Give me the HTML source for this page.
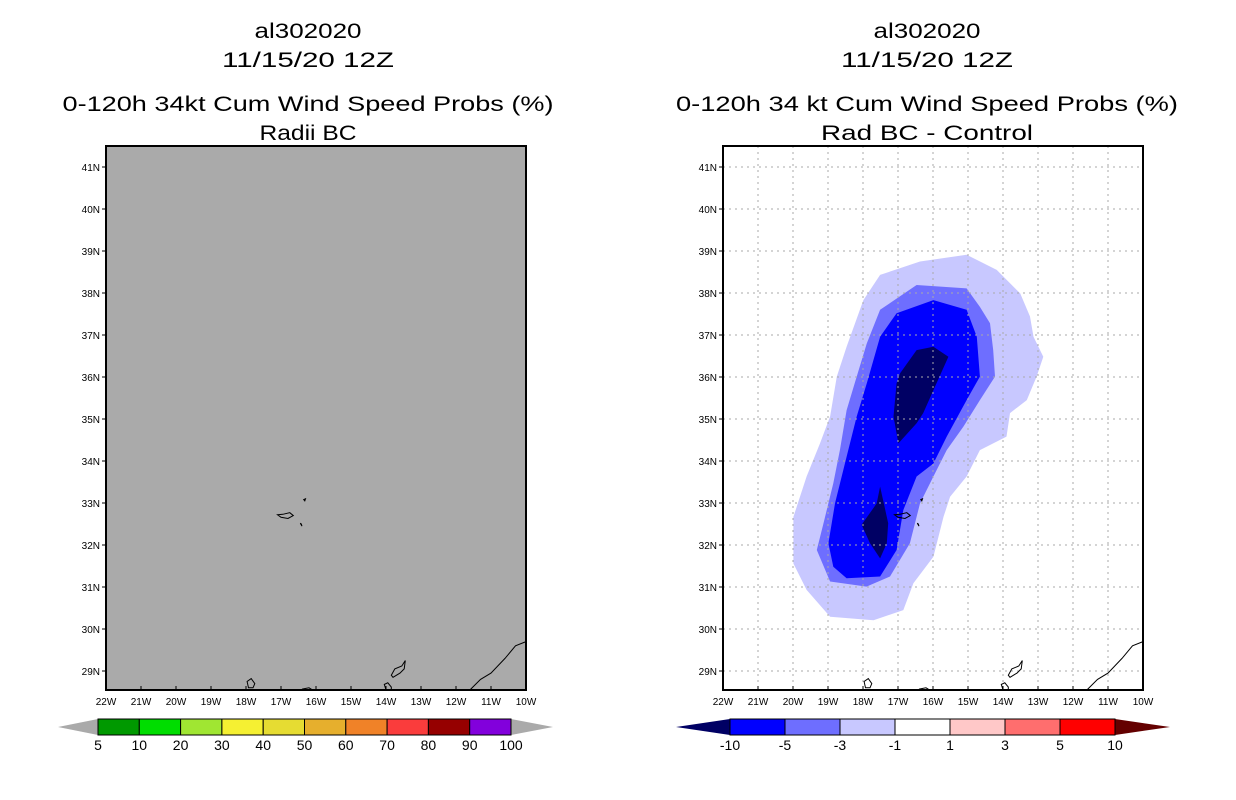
<!DOCTYPE html>
<html><head><meta charset="utf-8"><style>
html,body{margin:0;padding:0;background:#fff}
svg{display:block;font-family:"Liberation Sans",sans-serif}
</style></head><body>
<svg id="s" width="1236" height="800" xmlns="http://www.w3.org/2000/svg">
<g id="titles" font-size="21" text-anchor="middle" fill="#000">
<text x="308" y="38" textLength="107" lengthAdjust="spacingAndGlyphs">al302020</text>
<text x="308" y="67" textLength="172" lengthAdjust="spacingAndGlyphs">11/15/20 12Z</text>
<text x="308" y="111" textLength="491" lengthAdjust="spacingAndGlyphs">0-120h 34kt Cum Wind Speed Probs (%)</text>
<text x="308" y="140" textLength="97" lengthAdjust="spacingAndGlyphs">Radii BC</text>
<text x="927" y="38" textLength="107" lengthAdjust="spacingAndGlyphs">al302020</text>
<text x="927" y="67" textLength="172" lengthAdjust="spacingAndGlyphs">11/15/20 12Z</text>
<text x="927" y="111" textLength="502" lengthAdjust="spacingAndGlyphs">0-120h 34 kt Cum Wind Speed Probs (%)</text>
<text x="927" y="140" textLength="212" lengthAdjust="spacingAndGlyphs">Rad BC - Control</text>
</g>
</svg>
<script>
const lonTicks=[22,21,20,19,18,17,16,15,14,13,12,11,10];
const latTicks=[41,40,39,38,37,36,35,34,33,32,31,30,29];
const leftBins=["5","10","20","30","40","50","60","70","80","90","100"];
const leftColors=["#009900","#00dd00","#a0e632","#f5f032","#e6dc32","#e6af2d","#f08228","#fa3c3c","#960000","#8200dc"];
const rightBins=["-10","-5","-3","-1","1","3","5","10"];
const rightColors=["#0000ff","#6e6eff","#c8c8ff","#ffffff","#ffc8c8","#ff6e6e","#ff0000"];
// contour polygons, lon (negative = W), lat
const c1Lon=[-17.51,-16.37,-15.04,-14.18,-13.51,-13.23,-13.13,-12.85,-13.04,-13.32,-13.80,-13.90,-14.66,-15.04,-15.51,-15.70,-15.99,-16.56,-16.85,-17.70,-18.94,-19.61,-19.99,-19.99,-19.61,-19.23,-18.94,-18.75,-18.47,-17.99];
const c1Lat=[38.43,38.75,38.91,38.55,37.99,37.44,36.96,36.48,36.01,35.45,35.14,34.58,34.26,33.63,33.15,32.67,31.72,31.09,30.45,30.21,30.29,30.93,31.56,32.67,33.63,34.42,35.06,36.01,36.72,37.83];
const c3Lon=[-17.51,-16.47,-15.04,-14.66,-14.37,-14.28,-14.23,-14.66,-15.13,-15.61,-15.99,-16.37,-16.66,-17.23,-17.90,-18.94,-19.32,-19.13,-18.85,-18.66,-18.47,-18.18,-17.89];
const c3Lat=[37.60,38.19,38.11,37.67,37.28,36.64,36.01,35.45,34.82,34.26,33.63,32.99,32.04,31.25,31.01,31.13,31.88,32.52,33.47,34.26,35.21,36.01,36.80];
const c5Lon=[-17.04,-15.99,-15.04,-14.75,-14.66,-15.04,-15.61,-15.99,-16.47,-16.85,-17.04,-17.51,-18.47,-18.85,-18.99,-18.80,-18.47,-18.18,-17.89,-17.51];
const c5Lat=[37.52,37.83,37.60,36.96,36.01,35.45,34.58,33.94,33.63,32.83,31.88,31.25,31.21,31.48,32.04,32.99,34.10,35.06,35.85,36.96];
const c10aLon=[-16.47,-15.99,-15.56,-15.90,-16.28,-16.47,-16.99,-17.13,-17.04,-16.94];
const c10aLat=[36.64,36.72,36.48,35.85,35.14,34.90,34.42,35.06,35.85,36.09];
const c10bLon=[-17.51,-17.28,-17.32,-17.51,-17.80,-18.04,-17.61];
const c10bLat=[33.39,32.52,32.04,31.68,32.04,32.48,32.99];

const NS="http://www.w3.org/2000/svg";
const svg=document.getElementById('s');
function mk(tag,attrs,parent){const e=document.createElementNS(NS,tag);for(const k in attrs)e.setAttribute(k,attrs[k]);(parent||svg).appendChild(e);return e;}
const W=420,H=544,Y0=146;
function xs(x0){return lon=>x0+(lon+22)*35;}
function ys(lat){return Y0+(41.5-lat)*42;}

function coast(g,X){
  const pts=(arr)=>arr.map(p=>X(p[0]).toFixed(1)+','+ys(p[1]).toFixed(1)).join(' ');
  const isl=[
    [[[-16.95,32.73],[-16.75,32.77],[-16.65,32.70],[-16.80,32.63],[-17.0,32.66],[-17.1,32.72]]],
    [[[-16.35,33.08],[-16.30,33.10],[-16.32,33.05]]],
    [[[-16.45,32.52],[-16.40,32.45],[-16.42,32.50]]],
    [[[-17.93,28.6],[-17.97,28.75],[-17.85,28.82],[-17.75,28.7],[-17.80,28.6]]],
    [[[-16.40,28.57],[-16.2,28.6],[-16.1,28.55]]],
    [[[-14.0,28.55],[-14.05,28.68],[-13.95,28.72],[-13.85,28.62],[-13.85,28.55]]],
    [[[-13.85,28.9],[-13.75,29.05],[-13.55,29.12],[-13.45,29.25],[-13.48,29.05],[-13.6,28.95],[-13.8,28.85]]],
  ];
  isl.forEach((s,i)=>{const p=mk('polygon',{points:pts(s[0]),fill:'none',stroke:'#000','stroke-width':1},g);
  
  });
  const c=mk('polyline',{points:pts([[-11.6,28.55],[-11.3,28.8],[-11.0,28.95],[-10.6,29.3],[-10.3,29.6],[-10,29.7]]),fill:'none',stroke:'#000','stroke-width':1},g);
  
  
}

function axes(g,x0){
  const X=xs(x0);
  lonTicks.forEach(v=>{const x=X(-v);
    mk('line',{x1:x,x2:x,y1:Y0+H,y2:Y0+H-4,stroke:'#000'},g);
    const t=mk('text',{x:x,y:Y0+H+15,'font-size':10,'text-anchor':'middle'},g);t.textContent=v+'W';
    
    });
  latTicks.forEach(v=>{const y=ys(v);
    mk('line',{x1:x0,x2:x0-4,y1:y,y2:y,stroke:'#000'},g);
    const t=mk('text',{x:x0-6,y:y+4,'font-size':10,'text-anchor':'end'},g);t.textContent=v+'N';
    
    });
}

// left panel
const gl=mk('g',{});


mk('rect',{x:106,y:Y0,width:W,height:H,fill:'#aaaaaa'},gl);
coast(gl,xs(106));
mk('rect',{x:106,y:Y0,width:W,height:H,fill:'none',stroke:'#000','stroke-width':2},gl);
axes(gl,106);

// right panel
const gr=mk('g',{});


const XR=xs(723);
mk('rect',{x:723,y:Y0,width:W,height:H,fill:'#fff'},gr);
const poly=(lo,la,col,name)=>{const p=mk('polygon',{points:lo.map((v,i)=>XR(v).toFixed(1)+','+ys(la[i]).toFixed(1)).join(' '),fill:col},gr);
  
  };
poly(c1Lon,c1Lat,'#c8c8ff','contour-minus1');
poly(c3Lon,c3Lat,'#6e6eff','contour-minus3');
poly(c5Lon,c5Lat,'#0000ff','contour-minus5');
poly(c10aLon,c10aLat,'#000064','contour-minus10-north');
poly(c10bLon,c10bLat,'#000064','contour-minus10-south');
lonTicks.forEach(v=>{const x=XR(-v);mk('line',{x1:x,x2:x,y1:Y0,y2:Y0+H,stroke:'#aaa','stroke-dasharray':'2,4'},gr);});
latTicks.forEach(v=>{const y=ys(v);mk('line',{x1:723,x2:1143,y1:y,y2:y,stroke:'#aaa','stroke-dasharray':'2,4'},gr);});
coast(gr,XR);
mk('rect',{x:723,y:Y0,width:W,height:H,fill:'none',stroke:'#000','stroke-width':2},gr);
axes(gr,723);

// colorbars
function cbar(x0,x1,tipL,tipR,colors,labels,lc,rc,name){
  const g=mk('g',{});
  
  
  const y0=719,y1=735,ym=727,w=(x1-x0)/colors.length;
  mk('polygon',{points:`${tipL},${ym} ${x0},${y0} ${x0},${y1}`,fill:lc},g);
  mk('polygon',{points:`${tipR},${ym} ${x1},${y0} ${x1},${y1}`,fill:rc},g);
  colors.forEach((c,i)=>{const r=mk('rect',{x:x0+i*w,y:y0,width:w,height:y1-y0,fill:c,stroke:'#000','stroke-width':1},g);
    
    });
  labels.forEach((l,i)=>{const t=mk('text',{x:x0+i*w,y:750,'font-size':14,'text-anchor':'middle'},g);t.textContent=l;
    
    });
}
cbar(98,511,58,553,leftColors,leftBins,'#aaaaaa','#aaaaaa','left-colorbar');
cbar(730,1115,676,1170,rightColors,rightBins,'#000064','#640000','right-colorbar');
</script>
</body></html>
